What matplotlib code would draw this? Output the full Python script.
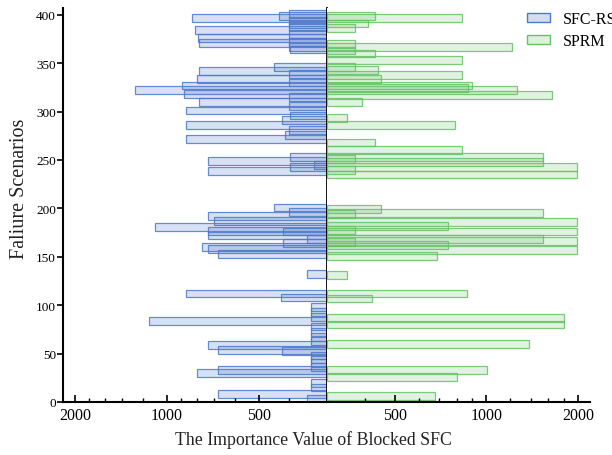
import matplotlib
matplotlib.use('Agg')
import matplotlib.pyplot as plt
from matplotlib.patches import Patch

plt.rcParams['font.family'] = ['Liberation Serif', 'DejaVu Serif']

# failure scenario index and importance value of blocked SFC
rs_scen = [401, 399, 397, 394, 390, 387, 384, 380, 376, 372, 371, 367, 364,
           346, 342, 339, 334, 330, 327, 322, 318, 315, 310, 306, 301, 296, 291, 286, 281, 276, 272,
           253, 249, 245, 243, 239,
           201, 196, 192, 187, 181, 177, 176, 172, 168, 164, 160, 158, 153,
           132, 112, 108, 98, 93, 88, 84, 78, 72, 67, 63, 59, 54, 53,
           48, 44, 40, 36, 33, 30, 20, 15, 8, 3]
rs_val = [400, 430, 826, 400, 400, 400, 808, 400, 790, 400, 785, 400, 395,
          448, 785, 400, 800, 400, 896, 1273, 880, 400, 785, 400, 870, 395, 420, 870, 400, 412, 870,
          395, 736, 330, 395, 736,
          448, 400, 736, 700, 1098, 736, 417, 736, 350, 417, 767, 736, 681,
          350, 870, 425, 338, 338, 338, 1147, 338, 338, 338, 338, 736, 681, 420,
          338, 338, 338, 338, 681, 800, 338, 338, 681, 350]

sprm_scen = [399, 397, 391, 386, 370, 367, 363, 360, 353, 346, 343, 338, 334,
             327, 324, 322, 317, 310, 293, 286,
             268, 260, 253, 251, 248, 243, 240, 235,
             199, 195, 194, 186, 182, 178, 176, 168, 166, 165, 162, 157, 151,
             131, 112, 107, 87, 80, 60, 33, 26, 6]
sprm_val = [430, 830, 410, 370, 370, 1210, 370, 430, 830, 370, 440, 830, 450,
            900, 870, 1266, 1640, 390, 350, 790,
            430, 830, 1537, 370, 1537, 1990, 370, 1990,
            450, 1540, 370, 1990, 750, 370, 1990, 1540, 1990, 370, 750, 1990, 688,
            350, 865, 420, 1795, 1795, 1383, 1005, 800, 680]

base = 300
blue = (0.30, 0.47, 0.80)
green = (0.40, 0.76, 0.40)

fig = plt.figure(figsize=(6.12, 4.56), dpi=100)
axl = fig.add_axes([63/612, 1-403/456, (327-63)/612, 394/456])
axr = fig.add_axes([327/612, 1-403/456, (590-327)/612, 394/456])

axl.barh(rs_scen, [v - base for v in rs_val], left=base, height=8,
         facecolor=blue + (0.22,), edgecolor=blue + (0.85,), linewidth=0.9)
axr.barh(sprm_scen, [v - base for v in sprm_val], left=base, height=8,
         facecolor=green + (0.2,), edgecolor=green + (0.85,), linewidth=0.9)

for ax in (axl, axr):
    ax.set_xscale('log')
    ax.set_ylim(0, 407)
    ax.set_xticks([500, 1000, 2000])
    ax.set_xticklabels(['500', '1000', '2000'])
    ax.set_xticks([400, 600, 700, 800, 900, 1200, 1400, 1600, 1800], minor=True)
    ax.xaxis.set_minor_formatter(plt.NullFormatter())
    ax.tick_params(axis='x', which='major', direction='in', length=5, width=1.2, labelsize=11.5)
    ax.tick_params(axis='x', which='minor', direction='in', length=3, width=1.0)
    ax.spines['top'].set_visible(False)
    ax.spines['bottom'].set_linewidth(1.5)

axl.set_xlim(2190, base)
axr.set_xlim(base, 2190)

axl.spines['right'].set_linewidth(1.3)
axl.spines['left'].set_linewidth(1.5)
axl.set_yticks(range(0, 401, 50))
axl.tick_params(axis='y', direction='out', length=4, width=1.2, labelsize=9.5, pad=1)

axr.spines['right'].set_visible(False)
axr.spines['left'].set_visible(False)
axr.set_yticks([])

fig.text(313/612, 1-440/456, 'The Importance Value of Blocked SFC', ha='center', va='center', fontsize=12.8, color='#222222')
fig.text(20/612, 1-189/456, 'Faliure Scenarios', ha='center', va='center', rotation=90, fontsize=14.5, color='#222222')

handles = [Patch(facecolor=blue + (0.25,), edgecolor=blue, label='SFC-RS'),
           Patch(facecolor=green + (0.22,), edgecolor=green, label='SPRM')]
fig.legend(handles=handles, loc='upper left', bbox_to_anchor=(527/612, 1-12/456), frameon=False,
           borderpad=0, borderaxespad=0, fontsize=11.5, handlelength=1.45, handleheight=0.5,
           handletextpad=0.8, labelspacing=0.4)

fig.savefig('out.png', dpi=100)
